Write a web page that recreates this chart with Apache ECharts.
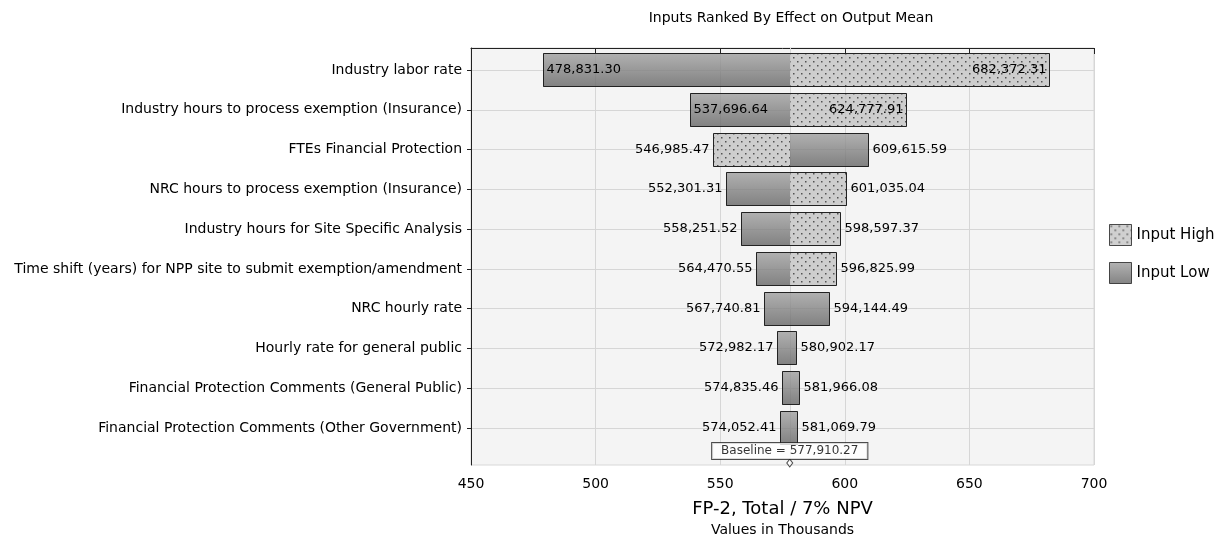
<!DOCTYPE html>
<html>
<head>
<meta charset="utf-8">
<script src="https://cdn.jsdelivr.net/npm/echarts@6/dist/echarts.min.js"></script>
<style>html,body{margin:0;padding:0;background:#fff;}#c{width:1223px;height:543px;}</style>
</head>
<body>
<div id="c"></div>
<script>
const categories = [
  'Industry labor rate',
  'Industry hours to process exemption (Insurance)',
  'FTEs Financial Protection',
  'NRC hours to process exemption (Insurance)',
  'Industry hours for Site Specific Analysis',
  'Time shift (years) for NPP site to submit exemption/amendment',
  'NRC hourly rate',
  'Hourly rate for general public',
  'Financial Protection Comments (General Public)',
  'Financial Protection Comments (Other Government)'
];
const leftEnd = [478831.30, 537696.64, 546985.47, 552301.31, 558251.52, 564470.55, 567740.81, 572982.17, 574835.46, 574052.41];
const rightEnd = [682372.31, 624777.91, 609615.59, 601035.04, 598597.37, 596825.99, 594144.49, 580902.17, 581966.08, 581069.79];
const leftSegInput = ['low','low','high','low','low','low','low','low','low','low'];
const rightSegInput = ['high','high','low','high','high','high','low','low','low','low'];
const baseline = 577910.27;
const xMin = 450, xMax = 700, xStep = 50;

const FONT = 'DejaVu Sans';
function fmt(v){ return v.toLocaleString('en-US',{minimumFractionDigits:2, maximumFractionDigits:2}); }

function dotPattern(){
  const c = document.createElement('canvas'); c.width = 8; c.height = 8;
  const g = c.getContext('2d');
  g.fillStyle = '#c4c4c4'; g.fillRect(0,0,8,8);
  g.fillStyle = '#2a2a2a';
  g.fillRect(1,1,1.5,1.5); g.fillRect(5,5,1.5,1.5);
  return {image: c, repeat: 'repeat'};
}
const HIGH = dotPattern();
const LOW = new echarts.graphic.LinearGradient(0,0,0,1,[{offset:0,color:'#a0a0a0'},{offset:1,color:'#646464'}]);
const BAR_H = 34;
const BAR_OPACITY = 0.8;

// split each row into pieces by input type (merge when both sides share a type)
function pieces(type){
  const out = [];
  categories.forEach((c,i) => {
    const l = leftEnd[i]/1000, r = rightEnd[i]/1000, b = baseline/1000;
    if (leftSegInput[i] === rightSegInput[i]) {
      if (leftSegInput[i] === type) out.push([l, r, i]);
    } else {
      if (leftSegInput[i] === type) out.push([l, b, i]);
      if (rightSegInput[i] === type) out.push([b, r, i]);
    }
  });
  return out;
}
const insideRow = i => (rightEnd[i]-leftEnd[i])/1000 > 80;

function pieceRenderer(fill){
  return (params, api) => {
    const p0 = api.coord([api.value(0), api.value(2)]);
    const p1 = api.coord([api.value(1), api.value(2)]);
    const x0 = Math.round(p0[0]), x1 = Math.round(p1[0]);
    const y0 = Math.round(p0[1] - BAR_H/2);
    return {type:'rect', shape:{x:x0, y:y0, width:x1-x0, height:BAR_H}, style:{fill: fill, opacity: BAR_OPACITY}};
  };
}

const chart = echarts.init(document.getElementById('c'), null, {renderer:'canvas'});
const option = {
  animation: false,
  textStyle: {fontFamily: FONT, color:'#000'},
  title: {text:'Inputs Ranked By Effect on Output Mean', left: 786, textAlign:'center', top: 6,
    textStyle:{fontFamily: FONT, fontSize: 14, fontWeight:'normal', color:'#000'}},
  legend: {orient:'vertical', left: 1104, top: 219, itemWidth: 22, itemHeight: 21, itemGap: 16, icon:'rect',
    data:['Input High','Input Low'], textStyle:{fontFamily: FONT, fontSize: 15, color:'#000'},
    itemStyle:{borderColor:'#222', borderWidth:1, opacity: BAR_OPACITY}},
  grid: [
    {left: 471, top: 48, width: 623, height: 417, show: true, backgroundColor:'#f4f4f4', borderWidth: 1, borderColor:'#d8d8d8'},
    {left: 471, top: 70, width: 623, height: 358, show: false}
  ],
  xAxis: [
    {type:'value', gridIndex:0, min:xMin, max:xMax, interval:xStep,
     axisLine:{show:true, lineStyle:{color:'#222', width:1}},
     axisTick:{show:true, length:6, lineStyle:{color:'#222'}},
     axisLabel:{fontFamily:FONT, fontSize:14, color:'#000', margin:12},
     splitLine:{show:true, lineStyle:{color:'#d6d6d6', width:1}},
     name:'{a|FP-2, Total / 7% NPV}\n{b|Values in Thousands}', nameLocation:'middle', nameGap: 33,
     nameTextStyle:{rich:{a:{fontFamily:FONT, fontSize:18, lineHeight:22, color:'#000'}, b:{fontFamily:FONT, fontSize:14, lineHeight:20, color:'#000'}}}},
    {type:'value', gridIndex:1, min:xMin, max:xMax, interval:xStep, show:false}
  ],
  yAxis: [
    {type:'value', gridIndex:0, min:0, max:10.5, inverse:true,
     axisLine:{show:true, onZero:false, lineStyle:{color:'#222'}}, axisTick:{show:false}, axisLabel:{show:false}, splitLine:{show:false}},
    {type:'category', gridIndex:1, data: categories, inverse:true, boundaryGap:false,
     axisLine:{show:false}, axisTick:{show:true, length:4, lineStyle:{color:'#222'}},
     axisLabel:{fontFamily:FONT, fontSize:14, color:'#000', margin:9},
     splitLine:{show:true, lineStyle:{color:'#d6d6d6', width:1}}}
  ],
  series: [
    {type:'scatter', xAxisIndex:0, yAxisIndex:0, data:[], z:1, silent:true,
     markLine:{silent:true, z:1, symbol:['none','none'], label:{show:false}, lineStyle:{color:'#d6d6d6', type:'solid', width:1},
       data:[{xAxis: baseline/1000}]}},
    {type:'custom', name:'Input Low', xAxisIndex:1, yAxisIndex:1, z:3, silent:true,
     itemStyle:{color: LOW}, encode:{x:[0,1], y:2},
     renderItem: pieceRenderer(LOW), data: pieces('low')},
    {type:'custom', name:'Input High', xAxisIndex:1, yAxisIndex:1, z:3, silent:true,
     itemStyle:{color: HIGH}, encode:{x:[0,1], y:2},
     renderItem: pieceRenderer(HIGH), data: pieces('high')},
    {type:'custom', name:'_outline', xAxisIndex:1, yAxisIndex:1, z:4, silent:true,
     encode:{x:[0,1], y:2},
     renderItem: (params, api) => {
       const i = params.dataIndex;
       const p0 = api.coord([api.value(0), api.value(2)]);
       const p1 = api.coord([api.value(1), api.value(2)]);
       const x0 = Math.round(p0[0]) + 0.5, x1 = Math.round(p1[0]) - 0.5;
       const y0 = Math.round(p0[1] - BAR_H/2) + 0.5;
       const cy = Math.round(p0[1]);
       const inside = insideRow(i);
       const font = '13px "' + FONT + '"';
       return {type:'group', children:[
         {type:'rect', shape:{x:x0, y:y0, width:x1-x0, height:BAR_H-1},
          style:{fill:'none', stroke:'#222', lineWidth:1}},
         {type:'text', style:{text: fmt(leftEnd[i]), x: inside ? x0 + 3 : x0 - 4, y: cy,
           align: inside ? 'left' : 'right', verticalAlign:'middle', font: font, fill:'#000'}},
         {type:'text', style:{text: fmt(rightEnd[i]), x: inside ? x1 - 3 : x1 + 4, y: cy,
           align: inside ? 'right' : 'left', verticalAlign:'middle', font: font, fill:'#000'}}
       ]};
     },
     data: leftEnd.map((v,i) => [v/1000, rightEnd[i]/1000, i])},
    {type:'scatter', xAxisIndex:0, yAxisIndex:0, z:6, silent:true,
     symbol:'diamond', symbolSize:[6,8], itemStyle:{color:'#fff', borderColor:'#222', borderWidth:1},
     data:[[baseline/1000, 10.45]]},
    {type:'scatter', xAxisIndex:0, yAxisIndex:0, z:7, silent:true, symbolSize:0,
     label:{show:true, position:'inside', formatter: () => 'Baseline = ' + fmt(baseline),
       fontFamily:FONT, fontSize:12, color:'#000', backgroundColor:'#fff', borderColor:'#222', borderWidth:1, padding:[2,9,2,9]},
     data:[[baseline/1000, 10.15]]}
  ]
};
chart.setOption(option);
</script>
</body>
</html>
